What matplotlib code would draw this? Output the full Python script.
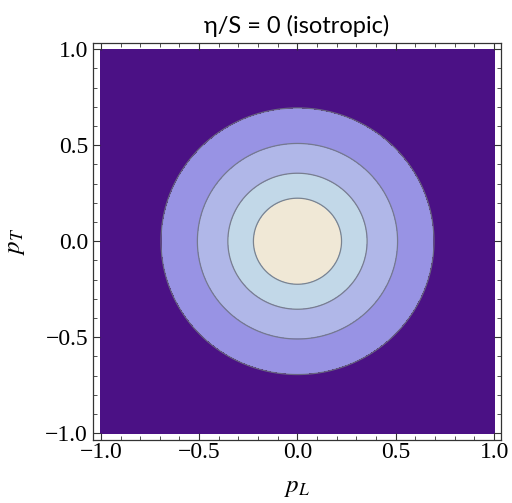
import numpy as np
import matplotlib
matplotlib.use("Agg")
import matplotlib.pyplot as plt
from matplotlib.ticker import MultipleLocator

# contour radii (p_L, p_T plane), innermost first
radii = [0.224, 0.354, 0.509, 0.694]
# fill colours, centre outwards
fill_colors = ['#F0E8D6', '#C2D8E8', '#B0B7E8', '#9893E4', '#4B1185']
title = "η/S = 0 (isotropic)"
ticks = [-1.0, -0.5, 0.0, 0.5, 1.0]

plt.rcParams['font.family'] = ['Liberation Serif', 'DejaVu Serif']
plt.rcParams['mathtext.fontset'] = 'stix'

fig = plt.figure(figsize=(5.12, 5.03), dpi=100)
ax = fig.add_axes([0.1816, 0.1252, 0.7969, 0.7893])

pl = np.linspace(-1, 1, 601)
pL, pT = np.meshgrid(pl, pl)
r = np.hypot(pL, pT)

levels = [0] + radii + [10]
ax.contourf(pL, pT, r, levels=levels, colors=fill_colors)
ax.contour(pL, pT, r, levels=radii, colors='#6E7480', linewidths=0.9, alpha=0.85)

ax.set_xlim(-1.04, 1.035)
ax.set_ylim(-1.035, 1.032)
ax.set_xticks(ticks)
ax.set_yticks(ticks)
ax.xaxis.set_minor_locator(MultipleLocator(0.1))
ax.yaxis.set_minor_locator(MultipleLocator(0.1))
ax.tick_params(which='both', direction='in', top=True, right=True, color='#333333')
ax.tick_params(which='major', length=5, width=0.8, labelsize=17)
ax.tick_params(which='minor', length=3, width=0.6)
ax.tick_params(axis='x', which='major', pad=1.5)
ax.tick_params(axis='y', which='major', pad=3.5)
for s in ax.spines.values():
    s.set_linewidth(0.9)
    s.set_color('#333333')

ax.set_xlabel('$p_L$', fontsize=18, labelpad=10)
ax.set_ylabel('$p_T$', fontsize=18, labelpad=13)
ax.set_title(title, fontsize=17, family=['Lato', 'DejaVu Sans'], pad=7)

fig.savefig('out.png', dpi=100)
